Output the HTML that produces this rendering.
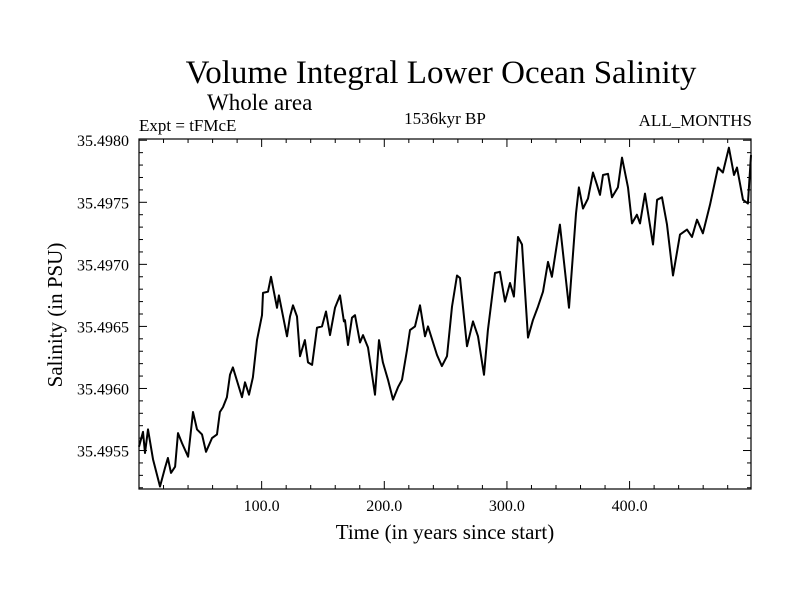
<!DOCTYPE html>
<html><head><meta charset="utf-8"><style>
body{margin:0;background:#fff;}
svg{display:block;font-family:"Liberation Serif",serif;}
</style></head><body>
<svg id="chart" width="800" height="600" viewBox="0 0 800 600">
<rect width="800" height="600" fill="#fff"/>
<text x="441" y="83" font-size="33" text-anchor="middle">Volume Integral Lower Ocean Salinity</text>
<text x="207" y="110" font-size="23">Whole area</text>
<text x="139" y="131" font-size="17">Expt = tFMcE</text>
<text x="445" y="124" font-size="17" text-anchor="middle">1536kyr BP</text>
<text x="752" y="126" font-size="17" text-anchor="end">ALL_MONTHS</text>
<text x="445" y="539" font-size="21" text-anchor="middle">Time (in years since start)</text>
<text transform="translate(62,315) rotate(-90)" font-size="21" text-anchor="middle">Salinity (in PSU)</text>
<g id="axes"></g>
<path id="series" fill="none" stroke="#000" stroke-width="2" stroke-linejoin="round"/>
<rect x="139" y="139" width="612" height="350" fill="none" stroke="#000" stroke-width="1.2"/>
</svg>
<script>
const years=[0,3.3,4.9,7.3,11.4,17.1,21.2,23.6,26.1,29.4,31.8,35.1,40.0,44.0,47.3,51.4,54.6,59.5,63.6,66.0,68.5,71.7,74.2,76.6,84.0,86.4,89.7,92.9,96.2,100.3,101.1,105.2,107.6,112.5,114.1,120.7,123.1,125.6,128.8,131.3,135.3,137.8,141.1,145.1,149.2,152.5,155.7,159.8,163.9,167.1,168.0,170.4,173.7,176.1,180.2,182.6,186.7,192.4,195.7,198.9,203.0,207.1,211.2,214.4,218.5,221.0,225.0,229.1,233.2,235.6,243.0,247.0,251.1,255.2,259.3,261.7,267.4,272.3,276.4,281.3,284.5,290.3,294.3,298.4,302.5,305.7,309.0,312.3,317.2,321.2,325.3,329.4,333.5,336.7,343.2,350.6,356.3,358.7,362.0,366.1,370.2,373.4,375.9,378.3,382.4,385.7,390.5,393.8,398.7,402.0,406.0,408.5,412.6,419.1,422.4,426.4,430.5,435.4,441.1,446.8,450.9,455.0,459.8,465.6,472.1,476.1,481.0,485.1,487.6,492.5,496.5,499];
const salinity=[35.49553,35.49565,35.49548,35.49567,35.49543,35.49521,35.49536,35.49544,35.49532,35.49537,35.49564,35.49556,35.49545,35.49581,35.49567,35.49563,35.49549,35.49560,35.49563,35.49581,35.49585,35.49593,35.49611,35.49617,35.49593,35.49605,35.49595,35.49609,35.49639,35.49659,35.49677,35.49678,35.49690,35.49665,35.49675,35.49642,35.49658,35.49667,35.49658,35.49626,35.49639,35.49621,35.49619,35.49649,35.49650,35.49662,35.49643,35.49665,35.49675,35.49654,35.49655,35.49635,35.49657,35.49659,35.49637,35.49643,35.49633,35.49595,35.49639,35.49621,35.49607,35.49591,35.49601,35.49607,35.49631,35.49647,35.49650,35.49667,35.49642,35.49650,35.49627,35.49618,35.49626,35.49666,35.49691,35.49689,35.49634,35.49654,35.49642,35.49611,35.49647,35.49693,35.49694,35.49670,35.49685,35.49674,35.49722,35.49716,35.49641,35.49655,35.49666,35.49678,35.49702,35.49690,35.49732,35.49665,35.49741,35.49762,35.49745,35.49753,35.49774,35.49764,35.49756,35.49772,35.49773,35.49754,35.49762,35.49786,35.49762,35.49733,35.49740,35.49733,35.49757,35.49716,35.49752,35.49754,35.49732,35.49691,35.49724,35.49728,35.49722,35.49736,35.49725,35.49748,35.49778,35.49774,35.49794,35.49772,35.49778,35.49752,35.49749,35.49788];
const xTicks=[100,200,300,400];
const xTickLabels=["100.0","200.0","300.0","400.0"];
const yTicks=[35.4955,35.4960,35.4965,35.4970,35.4975,35.4980];
const yTickLabels=["35.4955","35.4960","35.4965","35.4970","35.4975","35.4980"];
const X0=139,X1=751,Y0=489,Y1=139,XMIN=0,XMAX=499,YMIN=35.49519,YMAX=35.49801;
const sx=v=>X0+(v-XMIN)/(XMAX-XMIN)*(X1-X0);
const sy=v=>Y0-(v-YMIN)/(YMAX-YMIN)*(Y0-Y1);
const NS="http://www.w3.org/2000/svg";
const g=document.getElementById('axes');
function line(x1,y1,x2,y2,name){const l=document.createElementNS(NS,'line');l.setAttribute('x1',x1);l.setAttribute('y1',y1);l.setAttribute('x2',x2);l.setAttribute('y2',y2);l.setAttribute('stroke','#000');l.setAttribute('stroke-width','1');


g.appendChild(l);}
function text(x,y,s,anchor,name){const t=document.createElementNS(NS,'text');t.setAttribute('x',x);t.setAttribute('y',y);t.setAttribute('font-size','16');t.setAttribute('text-anchor',anchor);t.textContent=s;


g.appendChild(t);}
for(let v=20;v<XMAX;v+=20){const x=sx(v);const major=v%100===0;const L=major?8:4;line(x,Y0,x,Y0-L,'x-tick');line(x,Y1,x,Y1+L,'x-tick-top');}
xTicks.forEach((v,i)=>text(sx(v),511,xTickLabels[i],'middle','x-tick-label'));
for(let k=0;k<30;k++){const v=35.4952+k*0.0001;if(v>YMAX+1e-7)break;const y=sy(v);const major=Math.abs((v*10000)%5)<0.01||Math.abs((v*10000)%5-5)<0.01;const L=major?8:4;line(X0,y,X0+L,y,'y-tick');line(X1,y,X1-L,y,'y-tick-right');}
yTicks.forEach((v,i)=>text(129,sy(v)+6,yTickLabels[i],'end','y-tick-label'));
document.getElementById('series').setAttribute('d',years.map((t,i)=>(i?'L':'M')+sx(t).toFixed(1)+','+sy(salinity[i]).toFixed(1)).join(''));
</script>
</body></html>
